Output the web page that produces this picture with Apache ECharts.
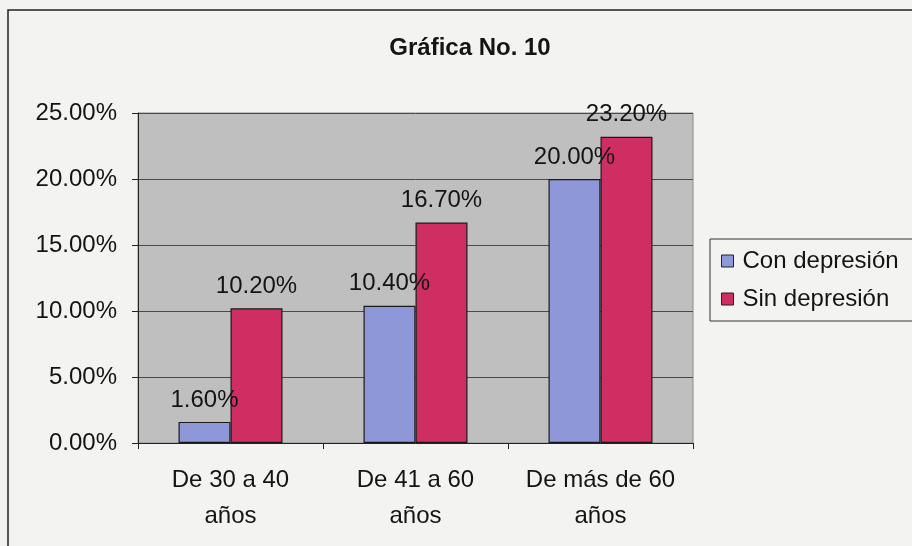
<!DOCTYPE html>
<html>
<head>
<meta charset="utf-8">
<script src="https://cdn.jsdelivr.net/npm/echarts@6/dist/echarts.min.js"></script>
<style>
html,body{margin:0;padding:0;background:#f3f3f1;}
#chart{width:912px;height:546px;}
</style>
</head>
<body>
<div id="chart"></div>
<script>
var categories = ['De 30 a 40\naños', 'De 41 a 60\naños', 'De más de 60\naños'];
var conDepresion = [1.6, 10.4, 20.0];
var sinDepresion = [10.2, 16.7, 23.2];
var seriesNames = ['Con depresión', 'Sin depresión'];

var chart = echarts.init(document.getElementById('chart'));
var font = 'Liberation Sans, Arial, sans-serif';
var ink = '#141414';

function pct(v){ return v.toFixed(2) + '%'; }

var option = {
    backgroundColor:'#f3f3f1',
    animation:false,
    textStyle:{ fontFamily:font },
    title:{
        text:'Gráfica No. 10',
        left:465,
        textAlign:'center',
        top:31,
        textStyle:{ fontFamily:font, fontSize:24, fontWeight:'bold', color:ink }
    },
    graphic:[{
        type:'rect',
        shape:{ x:8, y:10, width:930, height:560 },
        style:{ fill:null, stroke:'#222', lineWidth:1.5 },
        silent:true
    }],
    legend:{
        orient:'vertical',
        left:710,
        top:239,
        padding:[10, 40, 10, 11],
        itemGap:14,
        itemWidth:12,
        itemHeight:12,
        icon:'rect',
        borderColor:'#333',
        borderWidth:1,
        backgroundColor:'#f3f3f1',
        textStyle:{ fontFamily:font, fontSize:24, color:ink, lineHeight:24, padding:[0,0,0,4] },
        itemStyle:{ borderColor:'#222', borderWidth:1 },
        data:seriesNames
    },
    grid:{
        left:138,
        right:219,
        top:113,
        bottom:103,
        show:true,
        backgroundColor:'#bfbfbf',
        borderColor:'#8a8a8a',
        borderWidth:1
    },
    xAxis:{
        type:'category',
        data:categories,
        axisLine:{ lineStyle:{ color:'#222', width:1 } },
        axisTick:{ show:true, length:6, lineStyle:{ color:'#222' } },
        axisLabel:{ fontSize:24, color:ink, lineHeight:36, margin:19, interval:0 }
    },
    yAxis:{
        type:'value',
        min:0,
        max:25,
        interval:5,
        axisLine:{ show:true, lineStyle:{ color:'#222', width:1 } },
        axisTick:{ show:true, length:6, lineStyle:{ color:'#222' } },
        axisLabel:{ fontSize:24, color:ink, margin:21, formatter:function(v){ return pct(v); } },
        splitLine:{ lineStyle:{ color:'#4a4a4a', width:1 } }
    },
    series:[{
        name:seriesNames[0],
        type:'bar',
        data:conDepresion,
        barWidth:52,
        barGap:'0%',
        itemStyle:{ color:'#8e98d8', borderColor:'#1a1a1a', borderWidth:1.2 },
        label:{ show:true, position:'top', distance:10, fontSize:24, color:ink, formatter:function(p){ return pct(p.value); } }
    },{
        name:seriesNames[1],
        type:'bar',
        data:sinDepresion,
        barWidth:52,
        barGap:'0%',
        itemStyle:{ color:'#cf2e62', borderColor:'#1a1a1a', borderWidth:1.2 },
        label:{ show:true, position:'top', distance:10, fontSize:24, color:ink, formatter:function(p){ return pct(p.value); } }
    }]
};
chart.setOption(option);
</script>
</body>
</html>
